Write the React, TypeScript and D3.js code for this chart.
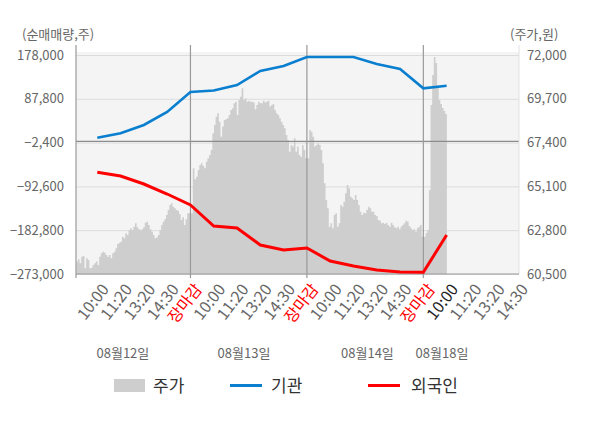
import * as React from 'react';
import * as d3 from 'd3';

// net buying (shares) at each time slot, slots 1..16
const instNet = [7690, 16750, 33840, 60610, 101800, 104890, 116220, 145050, 155350, 173880, 173880, 173880, 159470, 149170, 109420, 114780];
const foreignNet = [-63570, -71190, -87660, -108260, -130910, -174160, -178280, -213290, -223580, -219460, -246240, -256530, -264770, -268890, -269500, -192690];

// intraday price samples per day (won)
const priceDay1 = [61150, 61270, 61060, 61410, 61450, 60800, 61330, 61240, 60800, 60830, 60970, 61060, 61150, 60970, 61410, 61590, 61670, 61620, 61500, 61410, 61500, 61330, 61590, 61670, 61850, 62080, 62140, 62200, 62460, 62380, 62640, 62550, 62810, 62900, 62810, 62980, 63160, 62950, 62850, 62810, 62850, 62950, 63190, 63250, 63070, 62850, 62720, 62550, 62380, 62430, 62550, 62810, 63070, 63250, 63370, 63600, 63860, 64120, 64210, 64030, 63950, 63860, 63820, 63650, 63340, 63480, 63070, 63370, 63690];
const priceDay2 = [66050, 65470, 65610, 65960, 66220, 66310, 66170, 66050, 66400, 66580, 66750, 67010, 67890, 68320, 68760, 68940, 68500, 67710, 68240, 68590, 68620, 68680, 68850, 69110, 69200, 69460, 69550, 68850, 69640, 69810, 70250, 69640, 69730, 69550, 69600, 69550, 69550, 69500, 69150, 69370, 69550, 69460, 69460, 69600, 69500, 69550, 69600, 69290, 69370, 69430, 69110, 68940, 68850, 68680, 68500, 68320, 68150, 67800, 67540, 66920, 67270, 67190, 67630, 66920, 67190, 66750, 66660, 67270, 67010, 66580];
const priceDay3 = [68060, 67970, 67710, 67190, 67270, 67360, 67270, 67010, 66310, 65260, 64390, 63950, 62980, 63160, 62900, 63600, 63690, 62980, 63160, 64120, 64030, 64300, 64740, 65170, 65000, 64560, 64480, 64390, 64650, 64390, 64120, 63770, 63600, 63720, 63690, 63860, 64030, 63950, 63770, 63770, 63600, 63550, 63340, 63300, 63160, 63190, 63130, 63190, 63070, 62980, 63190, 63070, 62950, 62900, 62980, 62850, 62980, 63070, 63160, 63300, 63250, 63020, 62900, 62810, 62850, 62720, 62900, 62980, 63070, 62460];
const priceDay4 = [62650, 62810, 64910, 69370, 70950, 71900, 71580, 70270, 69640, 69430, 69220, 69060, 68900, 68740];

const slotLabels = ['10:00', '11:20', '13:20', '14:30', '장마감', '10:00', '11:20', '13:20', '14:30', '장마감', '10:00', '11:20', '13:20', '14:30', '장마감', '10:00', '11:20', '13:20', '14:30'];
const dayLabels = ['08월12일', '08월13일', '08월14일', '08월18일'];
const dayLabelSlot = [2.1, 7.3, 12.6, 15.8];
const leftTicks = [178000, 87800, -2400, -92600, -182800, -273000];
const rightTicks = [72000, 69700, 67400, 65100, 62800, 60500];

const W = 600;
const H = 428;
const FONT = '"Noto Sans CJK KR", "Noto Sans", sans-serif';

const App: React.FC = () => {
  const left = 76, right = 519, top = 52, bottom = 274;

  const x = d3.scaleLinear().domain([0, 19]).range([74, 516.5]);
  const yL = d3.scaleLinear().domain([-273000, 178000]).range([bottom, 55]);
  const yR = d3.scaleLinear().domain([60500, 72000]).range([bottom, 55]);
  const fmt = d3.format(',');

  const pricePts: [number, number][] = [];
  [priceDay1, priceDay2, priceDay3, priceDay4].forEach((day, d) => {
    day.forEach((p, j) => pricePts.push([5 * d + 0.1 + j * 0.07, p]));
  });

  const area = d3.area<[number, number]>()
    .x(d => x(d[0]))
    .y0(bottom)
    .y1(d => yR(d[1]))
    .curve(d3.curveStepAfter);

  const line = d3.line<number>()
    .x((_, i) => x(i + 1))
    .y(d => yL(d));

  const boundaries = [5, 10, 15];

  return (
    <svg width={W} height={H} style={{ position: 'absolute', left: 0, top: 0, fontFamily: FONT }}>
      <rect x={0} y={0} width={W} height={H} fill="#fff" />
      <defs>
        <clipPath id="plot">
          <rect x={left} y={top} width={right - left} height={bottom - top} />
        </clipPath>
      </defs>
      <rect x={left} y={top} width={right - left} height={bottom - top} fill="#f4f4f4" />

      {leftTicks.map(t => (
        <line key={t} x1={left} x2={right} y1={yL(t) + 0.5} y2={yL(t) + 0.5} stroke="#dcdcdc" strokeWidth={1} />
      ))}

      <path d={area(pricePts) || ''} fill="#cecece" clipPath="url(#plot)" />

      <line x1={left} x2={right} y1={yL(0)} y2={yL(0)} stroke="#8c8c8c" strokeWidth={1.2} />

      {boundaries.map(b => (
        <line key={b} x1={x(b)} x2={x(b)} y1={45} y2={278} stroke="#999" strokeWidth={1.2} />
      ))}
      <line x1={left} x2={left} y1={45} y2={278} stroke="#999" strokeWidth={1.2} />
      <line x1={right} x2={right} y1={45} y2={bottom} stroke="#e2e2e2" strokeWidth={1} />
      <line x1={left} x2={right} y1={bottom} y2={bottom} stroke="#999" strokeWidth={1.2} />

      <path d={line(instNet) || ''} fill="none" stroke="#0a7fd0" strokeWidth={2.6} />
      <path d={line(foreignNet) || ''} fill="none" stroke="#ff0000" strokeWidth={3} />

      {leftTicks.map(t => (
        <text key={t} x={64} y={yL(t)} dy="0.35em" textAnchor="end" fontSize={13} fill="#666">{fmt(t)}</text>
      ))}
      {rightTicks.map(t => (
        <text key={t} x={527} y={yR(t)} dy="0.35em" textAnchor="start" fontSize={13} fill="#666">{fmt(t)}</text>
      ))}
      <text x={22} y={39} fontSize={13} fill="#666">(순매매량,주)</text>
      <text x={510} y={39} fontSize={13} fill="#666">(주가,원)</text>

      {slotLabels.map((s, i) => {
        const k = i + 1;
        const color = s === '장마감' ? '#ff0000' : k === 16 ? '#222' : '#666';
        return (
          <text key={k} transform={`translate(${x(k) + 3},${282}) rotate(-52)`} textAnchor="end" dy="0.75em"
            fontSize={16} fill={color}>{s}</text>
        );
      })}

      {dayLabels.map((s, i) => (
        <text key={s} x={x(dayLabelSlot[i])} y={358} textAnchor="middle" fontSize={13} fill="#666">{s}</text>
      ))}

      <rect x={114} y={379} width={31} height={13} fill="#cecece" />
      <text x={153} y={386} dy="0.35em" fontSize={17} fill="#333">주가</text>
      <line x1={230} x2={262} y1={385.5} y2={385.5} stroke="#0a7fd0" strokeWidth={3} />
      <text x={271} y={386} dy="0.35em" fontSize={17} fill="#333">기관</text>
      <line x1={368} x2={400} y1={385.5} y2={385.5} stroke="#ff0000" strokeWidth={3} />
      <text x={411} y={386} dy="0.35em" fontSize={17} fill="#333">외국인</text>
    </svg>
  );
};

export default App;
